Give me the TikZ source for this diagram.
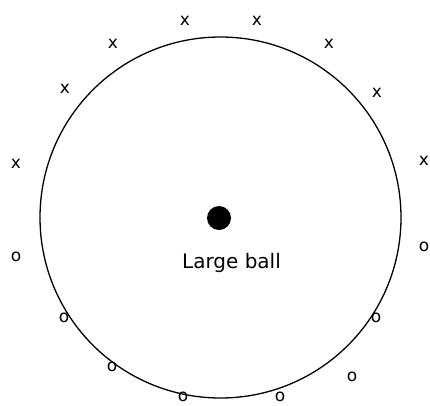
\documentclass[tikz,border=0pt]{standalone}
\usepackage{fontspec}
\setmainfont{DejaVu Sans}
\usepackage{tikz}
\tikzset{
  sidemark/.style={inner sep=0pt, font=\fontsize{17}{17}\selectfont},
  ballrim/.style={draw=black, line width=1.3pt},
  ballcore/.style={circle, fill=black, inner sep=0pt, minimum size=24pt},
  balllabel/.style={inner sep=0pt, font=\fontsize{20}{20}\selectfont},
}
\begin{document}
\begin{tikzpicture}[x=1pt, y=-1pt]
  \useasboundingbox (0,0) rectangle (430,405);
  \draw[ballrim] (220.5,217.5) circle[radius=180.5];
  \node[ballcore] (core) at (219,218) {};
  \node[balllabel, anchor=base] (label) at (231.5,268) {Large ball};
  % crosses round the top
  \foreach \px/\py [count=\i] in {185/21, 257/21, 113/44, 329/44,
                                  65/89, 377/93, 16/164, 424/161}
    \node[sidemark] (x\i) at (\px,\py) {x};
  % rings round the bottom
  \foreach \px/\py [count=\i] in {16/257, 424/247, 64/318, 376/318,
                                  112/367, 352/377, 183/397, 280/397}
    \node[sidemark] (o\i) at (\px,\py) {o};
\end{tikzpicture}
\end{document}
